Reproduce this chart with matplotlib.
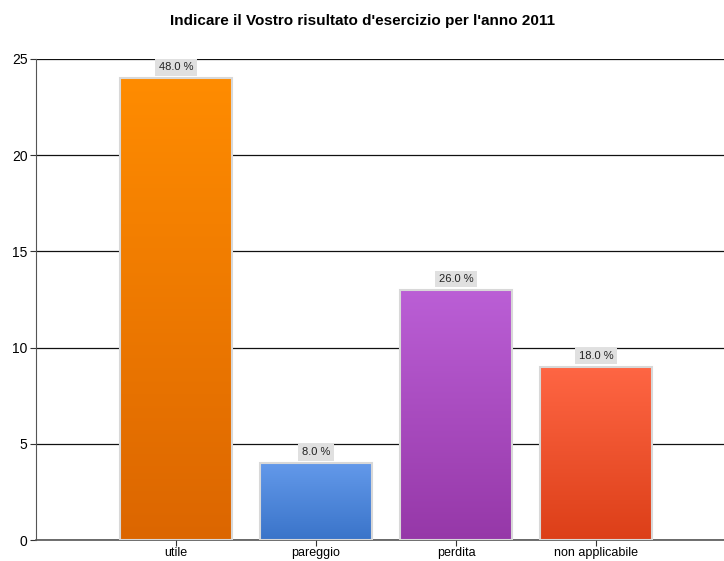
import numpy as np
import matplotlib
matplotlib.use("Agg")
import matplotlib.pyplot as plt
from matplotlib.colors import LinearSegmentedColormap

plt.rcParams["font.family"] = ["Liberation Sans", "DejaVu Sans"]

categories = ["utile", "pareggio", "perdita", "non applicabile"]
counts = [24, 4, 13, 9]
percent = [48.0, 8.0, 26.0, 18.0]
top_colors = ["#ff8c00", "#6399ea", "#bb5fd6", "#ff6644"]
bottom_colors = ["#dc6600", "#3a74c9", "#9638a8", "#dc3f18"]

fig = plt.figure(figsize=(7.24, 5.61), dpi=100)
ax = fig.add_axes([36 / 724, 21 / 561, 1 - 36 / 724, 481 / 561])

x = np.arange(len(categories))
bars = ax.bar(x, counts, width=0.8, color="none", edgecolor="#d8d8d8",
              linewidth=1.5, zorder=3)

# vertical gradient fill for each bar
grad = np.linspace(1, 0, 256).reshape(-1, 1)
for b, c_top, c_bot in zip(bars, top_colors, bottom_colors):
    cmap = LinearSegmentedColormap.from_list("g", [c_bot, c_top])
    ax.imshow(grad, cmap=cmap, aspect="auto", zorder=2,
              extent=[b.get_x(), b.get_x() + b.get_width(), 0, b.get_height()])

for xi, h, p in zip(x, counts, percent):
    ax.text(xi, h + 0.3, f"{p:.1f} %", ha="center", va="bottom", fontsize=8,
            color="#222222", zorder=4,
            bbox=dict(boxstyle="square,pad=0.3", fc="#e0e0e0", ec="none"))

ax.set_xlim(-1, 3.914)
ax.set_ylim(0, 25)
ax.set_yticks([0, 5, 10, 15, 20, 25])
ax.set_xticks(x)
ax.set_xticklabels(categories, fontsize=9)
ax.tick_params(axis="y", labelsize=10, length=4, color="#333333", pad=2)
ax.tick_params(axis="x", length=4, color="#333333", pad=1)
ax.yaxis.grid(True, color="#111111", linewidth=0.9, zorder=0)
ax.set_axisbelow(True)
for s in ["top", "right"]:
    ax.spines[s].set_visible(False)
ax.spines["left"].set_color("#555555")
ax.spines["bottom"].set_color("#555555")
ax.spines["bottom"].set_linewidth(1.2)

fig.text(0.5, 1 - 21 / 561, "Indicare il Vostro risultato d'esercizio per l'anno 2011",
         ha="center", va="center", fontsize=11, fontweight="bold")

fig.savefig("out.png", dpi=100)
